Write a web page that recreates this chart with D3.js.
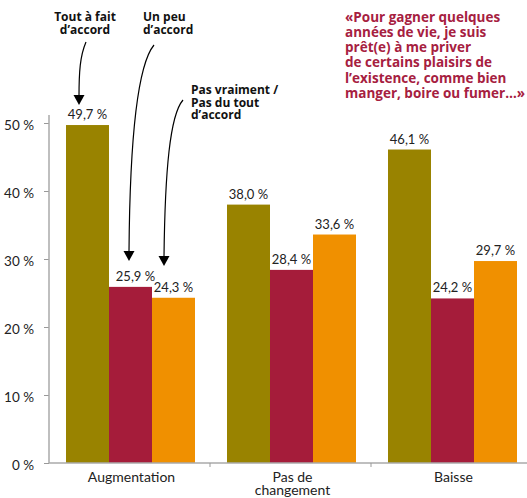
<!DOCTYPE html>
<html>
<head>
<meta charset="utf-8">
<script src="https://cdn.jsdelivr.net/npm/d3@7"></script>
<style>
    body { margin: 0; background: #fff; }
    svg { display: block; font-family: Lato, "Open Sans", sans-serif; }
</style>
</head>
<body>
<div id="chart"></div>
<script>
const categories = ["Augmentation", "Pas de\nchangement", "Baisse"];
const series = ["Tout à fait d'accord", "Un peu d'accord", "Pas vraiment / Pas du tout d'accord"];
const toutAFait = [49.7, 38.0, 46.1];
const unPeu = [25.9, 28.4, 24.2];
const pasVraiment = [24.3, 33.6, 29.7];
const yTicks = [0, 10, 20, 30, 40, 50];
const colors = ["#998300", "#a51c3a", "#f09000"];

const quoteLines = [
    "«Pour gagner quelques",
    "années de vie, je suis",
    "prêt(e) à me priver",
    "de certains plaisirs de",
    "l’existence, comme bien",
    "manger, boire ou fumer…»"
];

const width = 527, height = 498;
const svg = d3.select("#chart").append("svg")
    .attr("width", width)
    .attr("height", height);

const x0 = d3.scaleBand().domain(categories).range([49, 532]);
const x1 = d3.scaleBand().domain(series).range([17, 146]);
const y = d3.scaleLinear().domain([0, 50]).range([463, 123]);

const values = [toutAFait, unPeu, pasVraiment];
const rows = [];
categories.forEach((c, ci) => {
    series.forEach((s, si) => {
        rows.push({ cat: c, serie: s, si: si, value: values[si][ci] });
    });
});

// bars
svg.append("g")
    .selectAll("rect")
    .data(rows)
    .enter().append("rect")
    .attr("x", d => x0(d.cat) + x1(d.serie))
    .attr("y", d => y(d.value))
    .attr("width", x1.bandwidth())
    .attr("height", d => y(0) - y(d.value))
    .style("fill", d => colors[d.si]);

// value labels
svg.append("g")
    .selectAll("text")
    .data(rows)
    .enter().append("text")
    .attr("x", d => x0(d.cat) + x1(d.serie) + x1.bandwidth() / 2 + (d.value == 25.9 ? 5 : 0))
    .attr("y", d => y(d.value) - 6)
    .attr("text-anchor", "middle")
    .style("font-size", "13px")
    .style("fill", "#222")
    .text(d => d.value.toFixed(1).replace(".", ",") + " %");

// y axis
const yAxis = svg.append("g")
    .attr("transform", "translate(49,0)")
    .call(d3.axisLeft(y).tickValues(yTicks).tickSize(5).tickFormat(d => d + " %"));
yAxis.select(".domain").remove();
yAxis.selectAll("line").style("stroke", "#999");
yAxis.selectAll("text")
    .attr("x", -15)
    .attr("dy", "0.45em")
    .style("font-family", "Lato, sans-serif")
    .style("font-size", "13.5px")
    .style("fill", "#222");

svg.append("line")
    .attr("x1", 49).attr("x2", 49)
    .attr("y1", 115).attr("y2", y(0))
    .style("stroke", "#aaa")
    .style("stroke-width", 1.5);

// x axis
svg.append("line")
    .attr("x1", 49).attr("x2", width)
    .attr("y1", y(0)).attr("y2", y(0))
    .style("stroke", "#aaa")
    .style("stroke-width", 1.5);

svg.append("g")
    .selectAll("line")
    .data(categories.slice(1))
    .enter().append("line")
    .attr("x1", d => x0(d)).attr("x2", d => x0(d))
    .attr("y1", y(0)).attr("y2", y(0) + 4)
    .style("stroke", "#999");

const xLabels = svg.append("g")
    .selectAll("text")
    .data(categories)
    .enter().append("text")
    .attr("x", d => x0(d) + x0.bandwidth() / 2 + 2)
    .attr("y", 482)
    .attr("text-anchor", "middle")
    .style("font-size", "14px")
    .style("fill", "#222");
xLabels.selectAll("tspan")
    .data(d => d.split("\n"))
    .enter().append("tspan")
    .attr("x", function() { return this.parentNode.getAttribute("x"); })
    .attr("dy", (d, i) => i == 0 ? 0 : 13)
    .text(d => d);

// legend annotations with arrows
const notes = [
    { lines: ["Tout à fait", "d’accord"], x: 85, y: 21, anchor: "middle",
      path: "M86,42 C80,56 79,72 79,97", tip: [79, 105] },
    { lines: ["Un peu", "d’accord"], x: 143, y: 21, anchor: "start",
      path: "M154,45 C140,62 130,120 129,252", tip: [129, 261] },
    { lines: ["Pas vraiment /", "Pas du tout", "d’accord"], x: 191, y: 94, anchor: "start",
      path: "M183,100 C170,115 165,170 164,257", tip: [164, 266] }
];

notes.forEach(n => {
    const t = svg.append("text")
        .attr("x", n.x)
        .attr("y", n.y)
        .attr("text-anchor", n.anchor)
        .style("font-family", "'Open Sans', sans-serif")
        .style("font-size", "12px")
        .style("font-weight", "bold")
        .style("fill", "#111");
    n.lines.forEach((l, i) => {
        t.append("tspan")
            .attr("x", n.x)
            .attr("dy", i == 0 ? 0 : 12.5)
            .text(l);
    });
    svg.append("path")
        .attr("d", n.path)
        .style("fill", "none")
        .style("stroke", "#000")
        .style("stroke-width", 1.2);
    const [tx, ty] = n.tip;
    svg.append("path")
        .attr("d", `M${tx},${ty} L${tx - 5.5},${ty - 10} L${tx + 5.5},${ty - 10} Z`)
        .style("fill", "#000");
});

// quote
const quote = svg.append("text")
    .attr("x", 345)
    .attr("y", 21.5)
    .style("font-family", "'Open Sans', sans-serif")
    .style("font-size", "13.5px")
    .style("font-weight", "bold")
    .style("fill", "#a6203f");
quote.selectAll("tspan")
    .data(quoteLines)
    .enter().append("tspan")
    .attr("x", 345)
    .attr("dy", (d, i) => i == 0 ? 0 : 15.3)
    .text(d => d);
</script>
</body>
</html>
